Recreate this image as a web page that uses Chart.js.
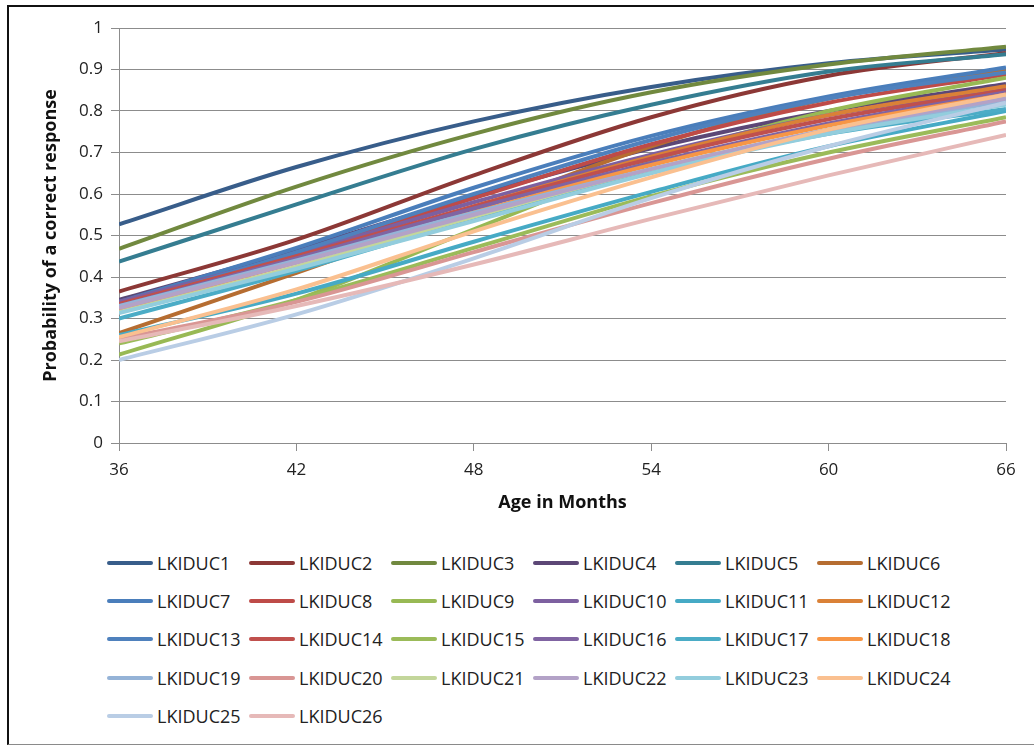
<!DOCTYPE html>
<html>
<head>
<meta charset="utf-8">
<script src="https://cdn.jsdelivr.net/npm/chart.js@4.4.1/dist/chart.umd.min.js"></script>
<style>
  body { margin: 0; background: #fff; font-family: "Open Sans", "Liberation Sans", sans-serif; }
  #marco { position: absolute; left: 7px; top: 5px; width: 1040px; height: 737px;
           border-left: 2px solid #111; border-top: 2px solid #111; border-bottom: 1px solid #8a8a8a; }
  #caja { position: absolute; left: 0; top: 0; width: 1034px; height: 516px; }
  #leyenda { position: absolute; left: 0; top: 0; }
  .item { position: absolute; height: 24px; display: flex; align-items: center; font-size: 18px; color: #222; }
  .linea { width: 46px; height: 4px; border-radius: 2px; margin-right: 4px; }
</style>
</head>
<body>
<div id="marco"></div>
<div id="caja"><canvas id="grafico"></canvas></div>
<div id="leyenda"></div>

<script>
// edades (eje x) y etiquetas de los ejes
const edades = [36, 42, 48, 54, 60, 66];
const xTicks = [36, 42, 48, 54, 60, 66];
const yTicks = ["0", "0.1", "0.2", "0.3", "0.4", "0.5", "0.6", "0.7", "0.8", "0.9", "1"];

const LKIDUC1  = [0.527, 0.665, 0.775, 0.858, 0.915, 0.948];
const LKIDUC2  = [0.365, 0.490, 0.645, 0.785, 0.885, 0.940];
const LKIDUC3  = [0.468, 0.618, 0.745, 0.845, 0.912, 0.955];
const LKIDUC4  = [0.345, 0.465, 0.595, 0.710, 0.800, 0.865];
const LKIDUC5  = [0.437, 0.575, 0.708, 0.815, 0.895, 0.937];
const LKIDUC6  = [0.265, 0.410, 0.560, 0.715, 0.830, 0.900];
const LKIDUC7  = [0.340, 0.470, 0.615, 0.740, 0.835, 0.905];
const LKIDUC8  = [0.335, 0.455, 0.590, 0.720, 0.820, 0.888];
const LKIDUC9  = [0.213, 0.345, 0.515, 0.680, 0.800, 0.880];
const LKIDUC10 = [0.340, 0.455, 0.580, 0.695, 0.790, 0.855];
const LKIDUC11 = [0.260, 0.360, 0.485, 0.605, 0.715, 0.800];
const LKIDUC12 = [0.323, 0.440, 0.570, 0.690, 0.790, 0.860];
const LKIDUC13 = [0.330, 0.460, 0.600, 0.730, 0.830, 0.893];
const LKIDUC14 = [0.335, 0.450, 0.570, 0.685, 0.780, 0.850];
const LKIDUC15 = [0.240, 0.345, 0.470, 0.595, 0.700, 0.785];
const LKIDUC16 = [0.330, 0.445, 0.565, 0.675, 0.770, 0.845];
const LKIDUC17 = [0.300, 0.415, 0.540, 0.655, 0.745, 0.805];
const LKIDUC18 = [0.320, 0.435, 0.555, 0.670, 0.765, 0.840];
const LKIDUC19 = [0.330, 0.440, 0.555, 0.660, 0.750, 0.825];
const LKIDUC20 = [0.250, 0.340, 0.460, 0.578, 0.685, 0.775];
const LKIDUC21 = [0.315, 0.425, 0.545, 0.660, 0.755, 0.835];
const LKIDUC22 = [0.325, 0.435, 0.550, 0.660, 0.755, 0.830];
const LKIDUC23 = [0.313, 0.420, 0.535, 0.650, 0.745, 0.815];
const LKIDUC24 = [0.255, 0.370, 0.510, 0.640, 0.755, 0.840];
const LKIDUC25 = [0.200, 0.310, 0.445, 0.590, 0.715, 0.820];
const LKIDUC26 = [0.245, 0.330, 0.430, 0.540, 0.645, 0.742];

const nombres = ["LKIDUC1","LKIDUC2","LKIDUC3","LKIDUC4","LKIDUC5","LKIDUC6","LKIDUC7","LKIDUC8",
  "LKIDUC9","LKIDUC10","LKIDUC11","LKIDUC12","LKIDUC13","LKIDUC14","LKIDUC15","LKIDUC16","LKIDUC17",
  "LKIDUC18","LKIDUC19","LKIDUC20","LKIDUC21","LKIDUC22","LKIDUC23","LKIDUC24","LKIDUC25","LKIDUC26"];
const series = [LKIDUC1, LKIDUC2, LKIDUC3, LKIDUC4, LKIDUC5, LKIDUC6, LKIDUC7, LKIDUC8, LKIDUC9,
  LKIDUC10, LKIDUC11, LKIDUC12, LKIDUC13, LKIDUC14, LKIDUC15, LKIDUC16, LKIDUC17, LKIDUC18,
  LKIDUC19, LKIDUC20, LKIDUC21, LKIDUC22, LKIDUC23, LKIDUC24, LKIDUC25, LKIDUC26];

// colores tipo Excel 2007
const colores = ["#385D8A","#8C3836","#71893F","#5C4776","#357D91","#B66D31",
  "#4A7EBB","#BE4B48","#98B954","#7D60A0","#46AAC5","#DA8137",
  "#4F81BD","#C0504D","#9BBB59","#8064A2","#4BACC6","#F79646",
  "#95B3D7","#D99694","#C3D69B","#B3A2C7","#93CDDD","#FAC090",
  "#B9CDE5","#E6B9B8"];

const gris = "#8c8c8c";

var datasets = series.map(function (valores, i) {
    return {
        label: nombres[i],
        data: valores.map(function (v, j) { return { x: edades[j], y: v }; }),
        borderColor: colores[i],
        backgroundColor: colores[i],
        borderWidth: 4,
        pointRadius: 0,
        fill: false,
        cubicInterpolationMode: "monotone",
        order: series.length - i   // la ultima serie queda encima, como en Excel
    };
});

var config = {
    type: "line",
    data: { datasets: datasets },
    options: {
        responsive: true,
        maintainAspectRatio: false,
        animation: false,
        layout: { padding: { left: 35, top: 28, right: 28, bottom: 0 } },
        plugins: { legend: { display: false }, tooltip: { enabled: false } },
        scales: {
            x: {
                type: "linear",
                min: 36, max: 66,
                afterBuildTicks: function (s) { s.ticks = xTicks.map(function (v) { return { value: v }; }); },
                afterFit: function (s) { s.height = 73; },
                grid: { display: true, drawOnChartArea: false, color: gris, tickLength: 8 },
                border: { color: gris, width: 1 },
                ticks: { color: "#222", padding: 9, font: { family: "Open Sans", size: 17 }, maxRotation: 0 },
                title: { display: true, text: "Age in Months", color: "#111",
                         font: { family: "Open Sans", size: 18, weight: "bold" }, padding: { top: 0, bottom: 2 } }
            },
            y: {
                min: 0, max: 1,
                ticks: {
                    stepSize: 0.1, color: "#222", padding: 8,
                    font: { family: "Open Sans", size: 17 },
                    callback: function (v) { return yTicks[Math.round(v * 10)]; }
                },
                afterFit: function (s) { s.width = 84; },
                grid: { color: gris, tickLength: 8 },
                border: { color: gris, width: 1 },
                title: { display: true, text: "Probability of a correct response", color: "#111",
                         font: { family: "Open Sans", size: 18, weight: "bold" }, padding: { top: 5, bottom: 0 } }
            }
        }
    }
};

new Chart(document.getElementById("grafico").getContext("2d"), config);

// leyenda en rejilla de 6 columnas
var leyenda = document.getElementById("leyenda");
nombres.forEach(function (n, i) {
    var fila = Math.floor(i / 6), col = i % 6;
    var d = document.createElement("div");
    d.className = "item";
    d.style.left = (107 + col * 142) + "px";
    d.style.top = (551 + fila * 38.2) + "px";
    d.innerHTML = '<span class="linea" style="background:' + colores[i] + '"></span>' + n;
    leyenda.appendChild(d);
});
</script>
</body>
</html>
